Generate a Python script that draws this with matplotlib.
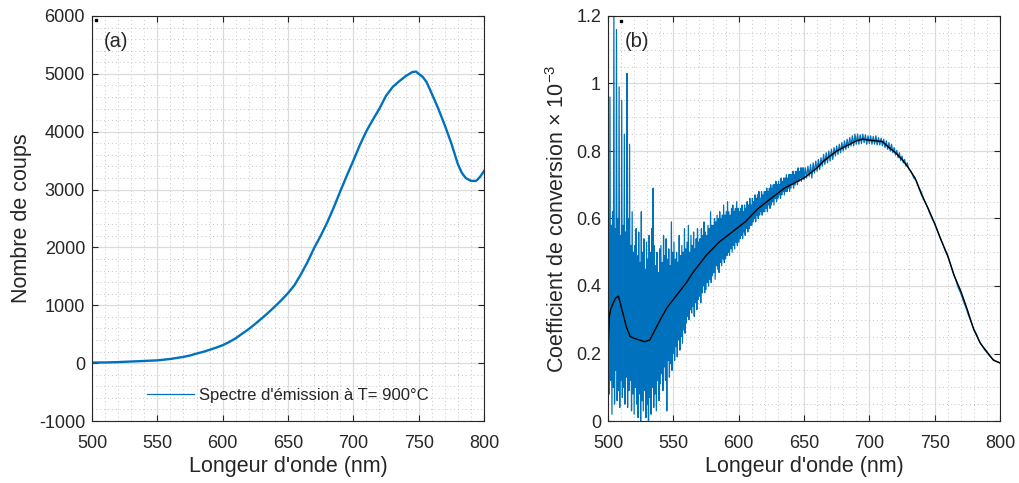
import matplotlib
matplotlib.use("Agg")
import matplotlib.pyplot as plt
from matplotlib.ticker import MultipleLocator, FuncFormatter

plt.rcParams['font.family'] = ['Liberation Sans', 'DejaVu Sans']
plt.rcParams['mathtext.fontset'] = 'custom'
plt.rcParams['mathtext.rm'] = 'Liberation Sans'
plt.rcParams['mathtext.it'] = 'Liberation Sans'
plt.rcParams['axes.unicode_minus'] = False

# ---------------- data (a) ----------------
spec_x = [500, 510, 520, 530, 540, 550, 560, 570, 575, 580, 585, 590, 595, 600, 605,
          610, 615, 620, 625, 630, 635, 640, 645, 650, 655, 660, 665, 670, 675, 680,
          685, 690, 695, 700, 705, 710, 715, 720, 725, 730, 735, 740, 745, 748, 750,
          753, 756, 760, 765, 770, 775, 780, 783, 786, 790, 794, 797, 800]
spec_y = [10, 12, 18, 28, 38, 48, 72, 108, 132, 165, 195, 230, 268, 310, 365,
          430, 510, 590, 680, 775, 875, 980, 1090, 1210, 1350, 1540, 1750, 1990, 2200, 2430,
          2690, 2970, 3240, 3500, 3770, 4010, 4210, 4400, 4620, 4770, 4870, 4960, 5030, 5040, 5000,
          4950, 4860, 4660, 4400, 4110, 3800, 3440, 3290, 3200, 3150, 3150, 3220, 3320]
spec_label = "Spectre d'émission à T= 900°C"

# ---------------- data (b) ----------------
# raw conversion coefficient: 0.5 nm samples 500-649.5, 1 nm 650-729, 2 nm 730-800
coef_x = [500 + 0.5 * i for i in range(300)] + list(range(650, 730)) + list(range(730, 801, 2))
coef_y = [
    # 500 - 509.5
    0.20, 0.55, 0.08, 0.96, 0.12, 0.58, 0.02, 0.62, 0.10, 1.22, 0.05, 0.57, 0.15, 1.16, 0.06, 0.60, 0.09, 0.99, 0.04, 0.55,
    # 510 - 519.5
    0.12, 0.95, 0.07, 0.58, 0.10, 0.85, 0.05, 0.56, 0.13, 1.03, 0.04, 0.60, 0.09, 0.82, 0.12, 0.52, 0.03, 0.62, 0.08, 0.50,
    # 520 - 529.5
    0.02, 0.52, 0.10, 0.57, 0.05, 0.49, 0.01, 0.56, 0.08, 0.47, 0.00, 0.62, 0.06, 0.50, 0.03, 0.54, 0.09, 0.45, 0.01, 0.53,
    # 530 - 539.5
    0.05, 0.48, 0.00, 0.55, 0.07, 0.50, 0.02, 0.57, 0.10, 0.69, 0.04, 0.52, 0.08, 0.46, 0.03, 0.50, 0.12, 0.44, 0.06, 0.51,
    # 540 - 549.5
    0.11, 0.52, 0.14, 0.47, 0.09, 0.55, 0.16, 0.49, 0.12, 0.54, 0.03, 0.48, 0.18, 0.51, 0.13, 0.46, 0.17, 0.59, 0.15, 0.50,
    # 550 - 559.5
    0.20, 0.53, 0.18, 0.48, 0.22, 0.50, 0.19, 0.47, 0.24, 0.55, 0.21, 0.49, 0.25, 0.52, 0.23, 0.50, 0.27, 0.57, 0.26, 0.51,
    # 560 - 569.5
    0.29, 0.53, 0.31, 0.58, 0.30, 0.50, 0.33, 0.55, 0.32, 0.52, 0.34, 0.56, 0.31, 0.51, 0.35, 0.54, 0.33, 0.57, 0.36, 0.53,
    # 570 - 579.5
    0.37, 0.54, 0.35, 0.57, 0.38, 0.55, 0.40, 0.59, 0.38, 0.56, 0.39, 0.55, 0.41, 0.58, 0.40, 0.57, 0.42, 0.62, 0.41, 0.58,
    # 580 - 589.5
    0.43, 0.58, 0.44, 0.60, 0.42, 0.59, 0.46, 0.61, 0.45, 0.60, 0.44, 0.62, 0.47, 0.60, 0.46, 0.61, 0.48, 0.64, 0.47, 0.61,
    # 590 - 599.5
    0.48, 0.62, 0.49, 0.65, 0.50, 0.62, 0.49, 0.61, 0.51, 0.63, 0.50, 0.64, 0.52, 0.62, 0.51, 0.63, 0.53, 0.65, 0.52, 0.63,
    # 600 - 609.5
    0.53, 0.62, 0.54, 0.63, 0.55, 0.64, 0.54, 0.62, 0.56, 0.64, 0.55, 0.63, 0.57, 0.65, 0.56, 0.64, 0.57, 0.66, 0.58, 0.64,
    # 610 - 619.5
    0.58, 0.66, 0.59, 0.65, 0.60, 0.67, 0.59, 0.66, 0.61, 0.67, 0.60, 0.68, 0.61, 0.66, 0.62, 0.68, 0.61, 0.67, 0.62, 0.68,
    # 620 - 629.5
    0.62, 0.68, 0.63, 0.69, 0.62, 0.68, 0.64, 0.69, 0.63, 0.70, 0.64, 0.69, 0.65, 0.70, 0.64, 0.70, 0.66, 0.71, 0.65, 0.70,
    # 630 - 639.5
    0.66, 0.71, 0.67, 0.70, 0.66, 0.72, 0.67, 0.71, 0.68, 0.72, 0.67, 0.72, 0.68, 0.73, 0.68, 0.72, 0.69, 0.73, 0.68, 0.73,
    # 640 - 649.5
    0.69, 0.73, 0.70, 0.74, 0.69, 0.73, 0.70, 0.74, 0.71, 0.74, 0.70, 0.75, 0.71, 0.74, 0.72, 0.75, 0.71, 0.75, 0.72, 0.75,
    # 650 - 659
    0.715, 0.75, 0.72, 0.755, 0.725, 0.76, 0.72, 0.765, 0.735, 0.77,
    # 660 - 669
    0.74, 0.775, 0.745, 0.78, 0.755, 0.79, 0.76, 0.795, 0.765, 0.80,
    # 670 - 679
    0.77, 0.805, 0.775, 0.81, 0.785, 0.815, 0.79, 0.82, 0.795, 0.825,
    # 680 - 689
    0.80, 0.83, 0.805, 0.835, 0.81, 0.84, 0.815, 0.845, 0.815, 0.85,
    # 690 - 699
    0.82, 0.85, 0.82, 0.848, 0.822, 0.85, 0.825, 0.848, 0.82, 0.845,
    # 700 - 709
    0.822, 0.845, 0.82, 0.843, 0.82, 0.845, 0.818, 0.84, 0.818, 0.838,
    # 710 - 719
    0.815, 0.835, 0.81, 0.83, 0.805, 0.825, 0.80, 0.82, 0.795, 0.81,
    # 720 - 729
    0.788, 0.802, 0.78, 0.795, 0.772, 0.785, 0.765, 0.775, 0.755, 0.765,
    # 730 - 800 (2 nm)
    0.748, 0.738, 0.72, 0.712, 0.692, 0.676, 0.655, 0.638, 0.618, 0.60,
    0.585, 0.565, 0.545, 0.527, 0.505, 0.488, 0.465, 0.44, 0.42, 0.395,
    0.378, 0.355, 0.335, 0.312, 0.292, 0.272, 0.258, 0.238, 0.225, 0.212,
    0.203, 0.193, 0.185, 0.179, 0.175, 0.172,
]
smooth_x = [500, 501, 502, 504, 506, 508, 510, 512, 514, 517, 520, 524, 528, 532, 536,
            540, 545, 550, 555, 560, 565, 570, 575, 580, 585, 590, 595, 600, 605, 610,
            615, 620, 625, 630, 635, 640, 645, 650, 655, 660, 665, 670, 675, 680, 685,
            690, 695, 700, 705, 710, 715, 720, 725, 730, 735, 740, 745, 750, 755, 760,
            765, 770, 775, 780, 785, 790, 795, 800]
smooth_y = [0.20, 0.31, 0.33, 0.35, 0.365, 0.37, 0.34, 0.31, 0.28, 0.25, 0.245, 0.24, 0.235, 0.24, 0.27,
            0.30, 0.335, 0.36, 0.385, 0.41, 0.44, 0.465, 0.49, 0.51, 0.53, 0.545, 0.56, 0.575, 0.59, 0.61,
            0.63, 0.645, 0.66, 0.675, 0.69, 0.70, 0.71, 0.72, 0.735, 0.75, 0.77, 0.785, 0.80, 0.81, 0.82,
            0.83, 0.835, 0.832, 0.83, 0.828, 0.81, 0.795, 0.775, 0.75, 0.72, 0.67, 0.63, 0.585, 0.535, 0.49,
            0.43, 0.385, 0.33, 0.27, 0.23, 0.205, 0.18, 0.172]

stray_a = ([502.8], [5924])
stray_b = ([509.7], [1.185])

BLUE = '#0072BD'
DARK = '#262626'

fig = plt.figure(figsize=(10.2, 4.83), dpi=100)
ax1 = fig.add_axes([92/1020, 62/483, 392/1020, 405/483])
ax2 = fig.add_axes([608/1020, 62/483, 392/1020, 405/483])


def style(ax):
    ax.set_axisbelow(True)
    ax.xaxis.set_major_locator(MultipleLocator(50))
    ax.xaxis.set_minor_locator(MultipleLocator(10))
    ax.grid(which='major', color='#dcdcdc', linewidth=0.9, linestyle='-')
    ax.grid(which='minor', color='#c4c4c4', linewidth=0.7, linestyle=(0, (1, 3)))
    ax.tick_params(which='major', direction='in', length=4, width=0.8, colors=DARK,
                   labelsize=13, top=True, right=True)
    ax.tick_params(axis='x', which='major', pad=10)
    ax.tick_params(axis='y', which='major', pad=5)
    ax.tick_params(which='minor', length=0, top=True, right=True)
    for s in ax.spines.values():
        s.set_color(DARK)
        s.set_linewidth(0.8)
    ax.set_xlim(500, 800)
    ax.set_xlabel("Longeur d'onde (nm)", fontsize=15.5, color=DARK, labelpad=3)


# ---- panel (a)
ax1.plot(spec_x, spec_y, color=BLUE, linewidth=1.7, label=spec_label)
ax1.plot(*stray_a, 's', color='black', markersize=1.5)
style(ax1)
ax1.set_ylim(-1000, 6000)
ax1.yaxis.set_major_locator(MultipleLocator(1000))
ax1.yaxis.set_minor_locator(MultipleLocator(200))
ax1.set_ylabel("Nombre de coups", fontsize=15.5, color=DARK, labelpad=5)
ax1.text(0.031, 0.936, "(a)", transform=ax1.transAxes, fontsize=14.5, color=DARK,
         ha='left', va='center')
leg = ax1.legend(loc='center', bbox_to_anchor=(0.5, 0.064), frameon=False,
                 fontsize=12, handlelength=2.8, handletextpad=0.3)
for t in leg.get_texts():
    t.set_color(DARK)
for l in leg.get_lines():
    l.set_linewidth(0.9)

# ---- panel (b)
ax2.plot(coef_x, coef_y, color=BLUE, linewidth=0.9)
ax2.plot(smooth_x, smooth_y, color='black', linewidth=1.0)
ax2.plot(*stray_b, 's', color='black', markersize=1.5)
style(ax2)
ax2.set_ylim(0, 1.2)
ax2.yaxis.set_major_locator(MultipleLocator(0.2))
ax2.yaxis.set_minor_locator(MultipleLocator(0.05))
ax2.yaxis.set_major_formatter(FuncFormatter(lambda v, p: f"{v:g}"))
ax2.set_ylabel("Coefficient de conversion $\\times$ 10$^{-3}$", fontsize=15.5,
               color=DARK, labelpad=5)
ax2.text(0.043, 0.936, "(b)", transform=ax2.transAxes, fontsize=14.5, color=DARK,
         ha='left', va='center')

fig.savefig("out.png", dpi=100)
